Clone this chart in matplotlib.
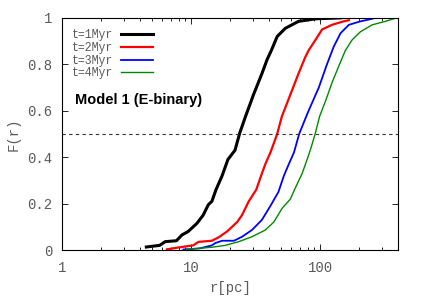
import matplotlib
matplotlib.use('Agg')
import matplotlib.pyplot as plt
import numpy as np

# 累积分布 F(r)
r_1myr = [4.5, 5.7, 6.3, 7.7, 8.5, 9.5, 11.1, 12.4, 13.6, 14.5, 15.6, 17.4, 19.3, 21.9,
          23.8, 26.4, 30.5, 35.4, 38.8, 41.9, 46.5, 53.7, 68, 92, 144]
f_1myr = [0.013, 0.02, 0.036, 0.04, 0.065, 0.08, 0.115, 0.15, 0.195, 0.21, 0.26, 0.32, 0.39, 0.43,
          0.503, 0.575, 0.67, 0.76, 0.82, 0.86, 0.92, 0.955, 0.985, 0.996, 1.0]

r_2myr = [6.5, 8.2, 10.4, 11.4, 14.5, 16.4, 19.0, 22.7, 24.8, 28.0, 32.0, 35.4, 37.6, 41.2,
          46.5, 50.5, 57, 68, 76.6, 81.5, 92, 103.6, 123.5, 152, 167]
f_2myr = [0.003, 0.012, 0.02, 0.035, 0.04, 0.055, 0.08, 0.12, 0.15, 0.21, 0.26, 0.33, 0.37, 0.42,
          0.5, 0.575, 0.65, 0.76, 0.83, 0.86, 0.905, 0.95, 0.97, 0.985, 0.99]

r_3myr = [8.7, 11.7, 14.5, 15.4, 17.4, 21.5, 24.8, 29.6, 35.4, 41.2, 47.5, 52.4, 57.2, 62.7,
          68.8, 80, 88.7, 97.7, 113, 127.5, 144, 167, 205, 253, 264]
f_3myr = [0.002, 0.007, 0.02, 0.03, 0.04, 0.04, 0.057, 0.086, 0.13, 0.19, 0.25, 0.32, 0.37, 0.42,
          0.5, 0.59, 0.647, 0.70, 0.80, 0.876, 0.934, 0.97, 0.985, 0.996, 1.0]

r_4myr = [9.2, 14.5, 18.4, 23.4, 29.6, 37.6, 43.7, 50.8, 58.9, 63.2, 72.6, 79.3, 85,
          91.5, 99, 111, 123.5, 139, 157, 177, 205, 253, 320, 370, 400]
f_4myr = [0.003, 0.012, 0.02, 0.036, 0.057, 0.086, 0.12, 0.18, 0.22, 0.259, 0.33, 0.39, 0.44,
          0.5, 0.575, 0.647, 0.72, 0.79, 0.86, 0.905, 0.94, 0.97, 0.985, 0.996, 1.0]

labels = ['t=1Myr', 't=2Myr', 't=3Myr', 't=4Myr']

mono = ['Liberation Mono', 'DejaVu Sans Mono']
grey = '#5a5a5a'

fig = plt.figure(figsize=(4.25, 2.98), dpi=100)
ax = fig.add_axes([0.146, 0.161, 0.79, 0.779])

ax.plot(r_1myr, f_1myr, color='black', lw=2.2, label=labels[0])
ax.plot(r_2myr, f_2myr, color='#ff0000', lw=1.6, label=labels[1])
ax.plot(r_3myr, f_3myr, color='#0000ff', lw=1.3, label=labels[2])
ax.plot(r_4myr, f_4myr, color='#008a00', lw=1.0, label=labels[3])
ax.axhline(0.5, color='#333333', lw=0.8, ls=(0, (3, 3)))

ax.set_xscale('log')
ax.set_xlim(1, 400)
ax.set_ylim(0, 1)
ax.set_yticks([0, 0.2, 0.4, 0.6, 0.8, 1])
ax.set_yticklabels(['0', '0.2', '0.4', '0.6', '0.8', '1'])
ax.set_xticks([1, 10, 100])
ax.set_xticklabels(['1', '10', '100'])
ax.tick_params(which='both', direction='in', top=True, right=True, colors='black',
               labelcolor=grey, labelsize=10, width=0.6)
ax.tick_params(which='major', length=4)
ax.tick_params(which='minor', length=2.5)
ax.tick_params(axis='x', which='major', pad=8)
ax.tick_params(axis='y', which='major', pad=7)
for lab in ax.get_xticklabels() + ax.get_yticklabels():
    lab.set_family(mono)
for s in ax.spines.values():
    s.set_linewidth(0.8)

ax.set_xlabel('r[pc]', family=mono, color=grey, fontsize=10, labelpad=4)
ax.set_ylabel('F(r)', family=mono, color=grey, fontsize=10, labelpad=5)

leg = ax.legend(loc='upper left', bbox_to_anchor=(0.0, 0.995), frameon=False,
                markerfirst=False, handlelength=2.8, handletextpad=0.6,
                labelspacing=0.05, prop={'family': mono, 'size': 8.3})
for t in leg.get_texts():
    t.set_color(grey)

ax.text(0.04, 0.645, 'Model 1 (E-binary)', transform=ax.transAxes,
        family=['Liberation Sans', 'DejaVu Sans'], fontweight='bold', fontsize=10.5,
        va='center', ha='left')

fig.savefig('out.png', dpi=100)
